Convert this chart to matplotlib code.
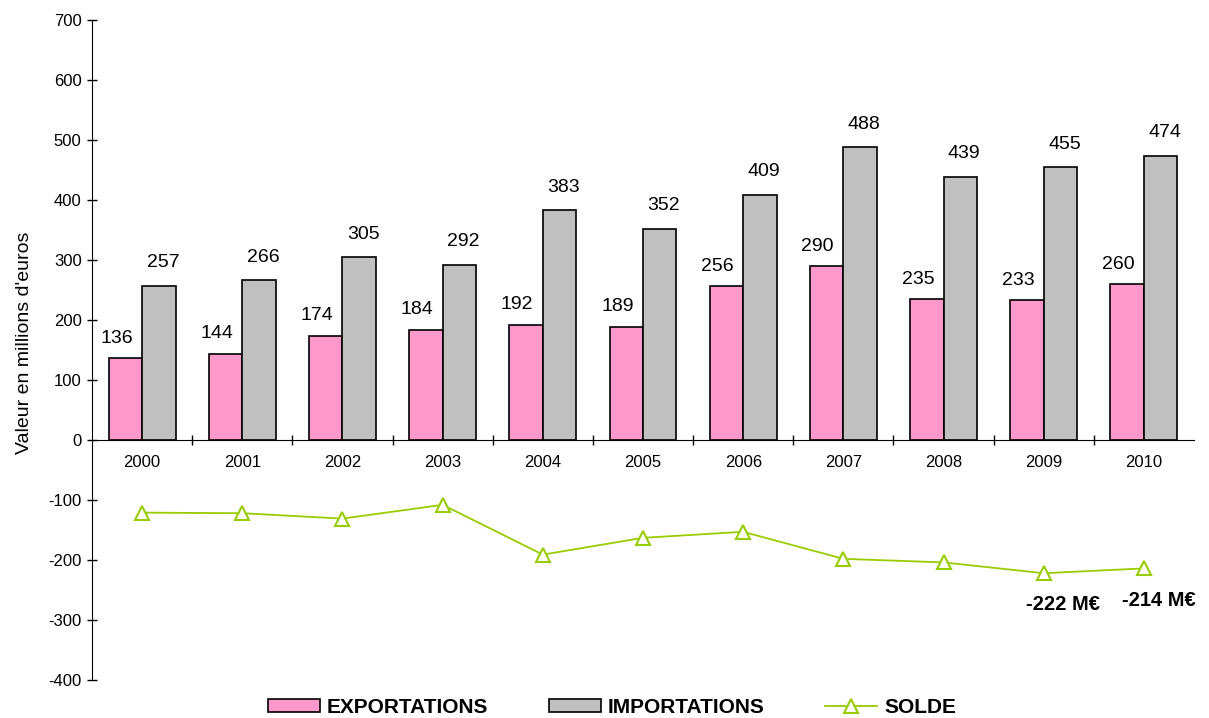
import matplotlib.pyplot as plt
import numpy as np

plt.rcParams['font.family'] = ['Liberation Sans', 'DejaVu Sans']
plt.rcParams['axes.unicode_minus'] = False

years = ['2000', '2001', '2002', '2003', '2004', '2005', '2006', '2007', '2008', '2009', '2010']
exports = [136, 144, 174, 184, 192, 189, 256, 290, 235, 233, 260]
imports = [257, 266, 305, 292, 383, 352, 409, 488, 439, 455, 474]
solde = [-121, -122, -131, -108, -191, -163, -153, -198, -204, -222, -214]

x = np.arange(len(years))
w = 0.334

fig = plt.figure(figsize=(12.09, 7.18), dpi=100)
ax = fig.add_axes([0.0761, 0.0529, 0.9115, 0.9192])

b1 = ax.bar(x - w / 2, exports, w, color='#FF99CC', edgecolor='black', linewidth=1.2,
            label='EXPORTATIONS')
b2 = ax.bar(x + w / 2, imports, w, color='#C0C0C0', edgecolor='black', linewidth=1.2,
            label='IMPORTATIONS')
ln, = ax.plot(x, solde, color='#99CC00', linewidth=1.3, marker='^', markersize=10,
              markerfacecolor='white', markeredgecolor='#99CC00', markeredgewidth=1.5,
              label='SOLDE')

for i in range(len(years)):
    ax.annotate(str(exports[i]), (x[i] - w / 2, exports[i]), xytext=(-9, 20),
                textcoords='offset pixels', ha='center', va='center', fontsize=14)
    ax.annotate(str(imports[i]), (x[i] + w / 2, imports[i]), xytext=(4, 23),
                textcoords='offset pixels', ha='center', va='center', fontsize=14)
    ax.text(x[i], -38, years[i], ha='center', va='center', fontsize=12)

ax.annotate('-222 M€', (x[9], solde[9]), xytext=(19, -31), textcoords='offset pixels',
            ha='center', va='center', fontsize=14.5, fontweight='bold')
ax.annotate('-214 M€', (x[10], solde[10]), xytext=(15, -32), textcoords='offset pixels',
            ha='center', va='center', fontsize=14.5, fontweight='bold')

ax.set_xlim(-0.5, len(years) - 0.5)
ax.set_ylim(-400, 700)
ax.set_yticks(np.arange(-400, 701, 100))
ax.tick_params(axis='y', labelsize=12, direction='inout', length=7, width=1, pad=4)
ax.set_xticks([])
ax.set_xticks(np.arange(0.5, len(years) - 0.5, 1), minor=True)
ax.tick_params(axis='x', which='minor', direction='inout', length=7, width=1)
ax.spines['top'].set_visible(False)
ax.spines['right'].set_visible(False)
ax.spines['bottom'].set_position(('data', 0))
ax.set_ylabel("Valeur en millions d'euros", fontsize=14, labelpad=11)
ax.yaxis.label.set_y(0.5 + 7 / 660)

fig.legend(handles=[b1, b2, ln], loc='center left', bbox_to_anchor=(268 / 1209, 10.5 / 718),
           ncol=3, frameon=False, borderpad=0, borderaxespad=0,
           handlelength=2.5, handleheight=0.53, handletextpad=0.33,
           columnspacing=2.9, prop={'weight': 'bold', 'size': 15})

fig.savefig('out.png', dpi=100)
